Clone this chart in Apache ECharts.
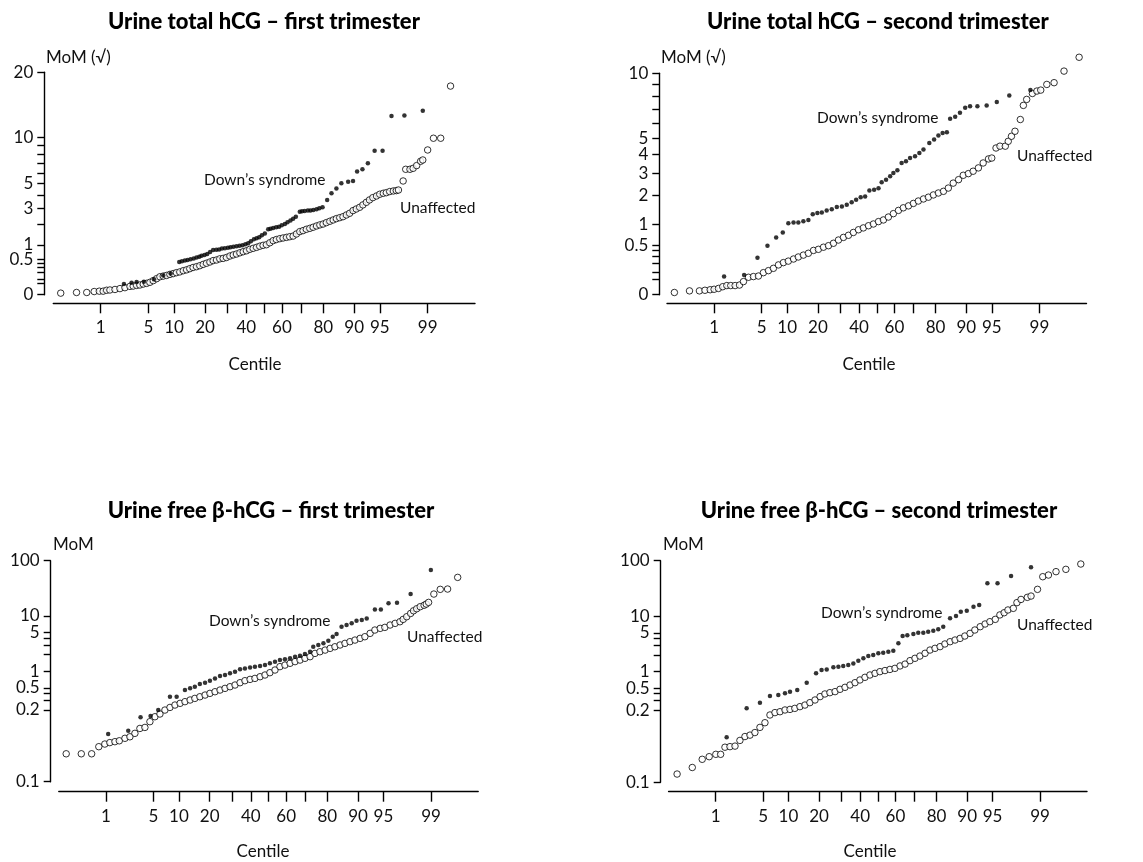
<!DOCTYPE html>
<html>
<head>
<meta charset="utf-8">
<script src="https://cdn.jsdelivr.net/npm/echarts@6/dist/echarts.min.js"></script>
<style>
  html, body { margin: 0; padding: 0; background: #fff; }
  #chart { width: 1143px; height: 862px; }
</style>
</head>
<body>
<div id="chart"></div>
<script>
// ---- Centile (probability) axis ----
const centileTicks = [1, 5, 10, 20, 30, 40, 50, 60, 70, 80, 90, 95, 99];
const centileLabels = [1, 5, 10, 20, 40, 60, 80, 90, 95, 99];

// ---- MoM axes ----
const totalT1YTicks = [20, 10, 9, 8, 7, 6, 5, 4, 3, 2, 1, 0.5, 0.4, 0.3, 0.2, 0.1, 0.05, 0];
const totalT1YLabelValues = [20, 10, 5, 3, 1, 0.5, 0];
const totalT1YLabelTexts = ['20', '10', '5', '3', '1', '0.5', '0'];

const totalT2YTicks = [10, 9, 8, 7, 6, 5, 4, 3, 2, 1, 0.5, 0.4, 0.3, 0.2, 0.1, 0.05, 0];
const totalT2YLabelValues = [10, 5, 4, 3, 2, 1, 0.5, 0];
const totalT2YLabelTexts = ['10', '5', '4', '3', '2', '1', '0.5', '0'];

const freeYTicks = [100, 10, 5, 4, 3, 2, 1, 0.5, 0.4, 0.3, 0.2, 0.01];
const freeYLabelValues = [100, 10, 5, 1, 0.5, 0.2, 0.01];
const freeYLabelTexts = ['100', '10', '5', '1', '0.5', '0.2', '0.1'];

// ---- Data: [centile, MoM] ----
const totalT1Unaffected = [[0.19,0.001],[0.38,0.002],[0.58,0.002],[0.78,0.004],[0.95,0.005],[1.10,0.005],[1.25,0.008],[1.41,0.009],[1.69,0.011],[2.01,0.015],[2.38,0.02],[2.81,0.028],[3.12,0.03],[3.48,0.035],[3.85,0.038],[4.27,0.046],[4.72,0.052],[5.2,0.062],[5.73,0.08],[6.3,0.104],[6.9,0.13],[7.55,0.14],[8.24,0.15],[9.0,0.167],[9.78,0.18],[10.6,0.196],[11.5,0.21],[12.5,0.233],[13.5,0.25],[14.5,0.274],[15.6,0.30],[16.8,0.317],[18.0,0.34],[19.3,0.372],[20.6,0.40],[22.0,0.432],[23.4,0.47],[24.9,0.487],[26.4,0.52],[28.0,0.534],[29.6,0.56],[31.3,0.605],[33.0,0.64],[34.7,0.669],[36.5,0.71],[38.3,0.748],[40.1,0.78],[41.9,0.832],[43.8,0.87],[45.7,0.907],[47.5,0.95],[49.4,0.986],[51.3,1.01],[53.2,1.09],[55.1,1.18],[56.9,1.23],[58.8,1.27],[60.6,1.30],[62.5,1.33],[64.2,1.36],[66.0,1.39],[67.7,1.49],[69.4,1.61],[71.0,1.66],[72.6,1.73],[74.2,1.78],[75.7,1.84],[77.2,1.91],[78.6,1.97],[79.9,2.02],[81.2,2.10],[82.5,2.18],[83.7,2.26],[84.8,2.34],[85.9,2.40],[86.9,2.46],[87.9,2.57],[88.8,2.68],[89.7,2.86],[90.5,2.97],[91.3,3.09],[92.0,3.26],[92.7,3.45],[93.3,3.63],[93.9,3.81],[94.5,3.94],[95.0,4.08],[95.5,4.16],[95.9,4.21],[96.3,4.30],[96.7,4.35],[97.0,4.38],[97.2,4.43],[97.6,5.23],[97.8,6.36],[98.1,6.36],[98.3,6.46],[98.5,6.74],[98.7,7.20],[98.8,7.34],[99.0,8.47],[99.2,9.90],[99.4,9.90],[99.6,17.6]];
const totalT1Downs = [[2.30,0.046],[2.96,0.058],[3.48,0.065],[4.35,0.069],[5.84,0.095],[7.55,0.15],[9.16,0.18],[11.35,0.43],[12.1,0.45],[12.97,0.47],[13.8,0.49],[14.75,0.51],[15.8,0.53],[16.8,0.56],[17.8,0.58],[18.65,0.61],[19.8,0.64],[20.9,0.67],[22.1,0.74],[23.4,0.81],[24.8,0.82],[26.1,0.83],[27.4,0.86],[28.8,0.87],[30.3,0.89],[31.6,0.91],[33.1,0.93],[34.7,0.95],[36.3,0.97],[37.9,0.99],[39.5,1.03],[41.0,1.07],[42.5,1.15],[44.2,1.24],[45.7,1.29],[47.2,1.33],[48.7,1.43],[50.4,1.52],[52.3,1.73],[53.6,1.76],[55.1,1.80],[56.8,1.84],[58.4,1.87],[59.9,1.95],[61.6,2.02],[63.0,2.12],[64.6,2.22],[66.0,2.34],[67.4,2.46],[69.4,2.79],[70.5,2.81],[71.8,2.83],[73.3,2.86],[74.5,2.86],[75.8,2.90],[77.2,2.95],[78.4,3.02],[79.7,3.09],[81.5,3.63],[83.1,4.16],[84.8,4.55],[86.4,5.02],[88.4,5.17],[89.7,5.23],[90.7,6.13],[91.9,6.36],[93.0,6.98],[94.2,8.39],[95.4,8.39],[96.5,12.9],[97.7,13.0],[98.8,13.7]];

const totalT2Unaffected = [[0.19,0.001],[0.37,0.003],[0.56,0.003],[0.70,0.004],[0.86,0.005],[1.0,0.006],[1.18,0.008],[1.38,0.013],[1.60,0.017],[1.84,0.017],[2.14,0.017],[2.48,0.019],[2.83,0.035],[3.33,0.062],[3.89,0.067],[4.53,0.071],[5.25,0.099],[6.07,0.118],[6.97,0.142],[7.99,0.181],[9.09,0.21],[10.3,0.23],[11.7,0.26],[13.1,0.29],[14.7,0.32],[16.4,0.35],[18.3,0.40],[20.2,0.42],[22.3,0.46],[24.5,0.49],[26.8,0.54],[29.2,0.61],[31.7,0.67],[34.3,0.72],[36.9,0.79],[39.7,0.86],[42.4,0.91],[45.3,0.97],[48.1,1.02],[51.0,1.09],[53.8,1.14],[56.6,1.23],[59.4,1.34],[62.2,1.45],[64.8,1.54],[67.5,1.61],[70.0,1.70],[72.4,1.79],[74.8,1.87],[77.0,1.94],[79.1,2.03],[81.1,2.11],[83.0,2.18],[84.7,2.32],[86.3,2.54],[87.9,2.70],[89.2,2.91],[90.5,2.99],[91.6,3.11],[92.7,3.28],[93.6,3.54],[94.5,3.76],[95.0,3.81],[95.6,4.39],[96.1,4.50],[96.7,4.50],[97.0,4.80],[97.3,5.12],[97.6,5.45],[98.0,6.26],[98.2,7.31],[98.4,7.78],[98.7,8.26],[98.9,8.46],[99.05,8.54],[99.25,9.02],[99.44,9.17],[99.63,10.2],[99.81,11.5]];
const totalT2Downs = [[1.45,0.067],[2.89,0.079],[4.40,0.28],[5.90,0.49],[7.51,0.67],[8.95,0.79],[10.3,1.04],[11.7,1.06],[13.1,1.06],[14.7,1.10],[16.4,1.14],[18.0,1.32],[19.8,1.36],[21.6,1.38],[23.7,1.45],[26.0,1.49],[28.4,1.57],[30.9,1.59],[33.4,1.65],[36.0,1.74],[38.4,1.84],[40.9,1.94],[43.4,1.97],[45.8,2.22],[48.5,2.25],[51.0,2.31],[52.8,2.58],[55.3,2.70],[57.6,2.86],[59.4,3.02],[61.6,3.16],[63.9,3.54],[66.2,3.63],[68.3,3.81],[70.8,3.91],[72.9,4.10],[74.8,4.30],[77.4,4.70],[79.4,4.91],[81.1,5.17],[82.7,5.34],[84.2,5.39],[85.3,6.31],[86.9,6.46],[88.3,6.75],[89.7,7.13],[90.9,7.25],[92.5,7.25],[94.2,7.31],[95.7,7.57],[97.1,8.10],[98.6,8.54]];

const freeT1Unaffected = [[0.19,0.032],[0.37,0.032],[0.57,0.032],[0.76,0.043],[0.96,0.048],[1.16,0.051],[1.40,0.053],[1.64,0.055],[2.00,0.061],[2.37,0.065],[2.80,0.075],[3.29,0.092],[3.85,0.096],[4.49,0.122],[5.21,0.150],[6.02,0.168],[6.92,0.198],[7.93,0.221],[9.04,0.244],[10.3,0.262],[11.6,0.281],[13.1,0.301],[14.6,0.322],[16.3,0.345],[18.2,0.370],[20.1,0.397],[22.2,0.425],[24.4,0.456],[26.7,0.489],[29.1,0.524],[31.6,0.562],[34.2,0.619],[36.8,0.673],[39.6,0.711],[42.3,0.741],[45.2,0.795],[48.0,0.853],[50.8,0.94],[53.7,1.05],[56.5,1.21],[59.3,1.29],[62.1,1.39],[64.8,1.49],[67.4,1.59],[69.9,1.71],[72.4,1.83],[74.7,2.10],[76.9,2.25],[79.1,2.41],[81.1,2.59],[82.9,2.77],[84.7,2.98],[86.3,3.19],[87.8,3.42],[89.2,3.66],[90.5,3.93],[91.6,4.21],[92.7,4.84],[93.6,5.56],[94.5,5.96],[95.2,6.21],[95.9,6.85],[96.5,7.34],[97.0,7.86],[97.3,8.67],[97.6,9.68],[97.9,11.1],[98.1,12.4],[98.3,13.5],[98.5,14.7],[98.7,15.6],[98.8,16.4],[98.9,17.6],[99.1,24.9],[99.3,30.3],[99.48,30.7],[99.66,49.9]];
const freeT1Downs = [[1.09,0.073],[2.24,0.084],[3.36,0.146],[4.58,0.154],[5.74,0.198],[7.93,0.345],[9.44,0.345],[11.6,0.456],[13.1,0.489],[14.6,0.524],[16.3,0.586],[18.2,0.619],[20.1,0.673],[22.2,0.741],[24.4,0.818],[26.7,0.853],[29.1,0.914],[31.6,0.98],[34.2,1.08],[36.8,1.12],[39.6,1.17],[42.3,1.21],[45.2,1.24],[48.0,1.29],[50.8,1.39],[53.7,1.49],[56.5,1.59],[59.3,1.64],[62.1,1.71],[64.8,1.83],[67.4,1.91],[69.9,2.05],[72.4,2.25],[73.9,2.77],[76.2,2.98],[78.4,3.19],[80.4,3.56],[82.1,4.21],[83.5,4.71],[85.2,6.39],[86.8,6.85],[88.3,7.34],[89.6,8.20],[90.9,8.43],[92.0,9.03],[93.6,13.1],[94.6,13.1],[95.7,16.9],[96.7,17.4],[97.9,24.9],[98.99,67.8]];

const freeT2Unaffected = [[0.20,0.0141],[0.39,0.0185],[0.59,0.026],[0.78,0.029],[1.01,0.032],[1.21,0.032],[1.42,0.043],[1.70,0.044],[2.03,0.045],[2.40,0.057],[2.84,0.067],[3.34,0.071],[3.90,0.079],[4.55,0.098],[5.28,0.119],[6.10,0.164],[7.01,0.181],[8.04,0.188],[9.16,0.202],[10.4,0.207],[11.7,0.216],[13.2,0.232],[14.8,0.248],[16.5,0.274],[18.4,0.306],[20.4,0.352],[22.4,0.393],[24.6,0.415],[27.0,0.433],[29.4,0.477],[31.9,0.518],[34.5,0.570],[37.2,0.628],[39.9,0.703],[42.7,0.785],[45.5,0.865],[48.4,0.927],[51.2,0.993],[54.1,1.04],[56.9,1.09],[59.7,1.14],[62.5,1.26],[65.2,1.36],[67.8,1.57],[70.3,1.73],[72.7,1.90],[75.1,2.13],[77.3,2.44],[79.4,2.62],[81.4,2.81],[83.2,3.14],[85.0,3.45],[86.6,3.70],[88.1,3.96],[89.4,4.37],[90.7,4.88],[91.8,5.61],[92.9,6.44],[93.8,7.20],[94.6,7.93],[95.4,8.73],[96.0,10.5],[96.5,11.5],[96.9,12.9],[97.4,13.8],[97.7,17.5],[98.0,20.0],[98.4,21.8],[98.6,23.0],[98.9,30.4],[99.1,51.4],[99.28,55.1],[99.47,63.4],[99.65,69.8],[99.82,87.1]];
const freeT2Downs = [[1.51,0.065],[3.00,0.216],[4.55,0.274],[6.10,0.361],[7.68,0.377],[9.16,0.404],[10.4,0.433],[12.4,0.463],[15.4,0.628],[18.8,0.927],[21.0,1.06],[23.2,1.09],[26.2,1.19],[28.6,1.22],[31.0,1.26],[33.6,1.31],[36.3,1.40],[39.0,1.57],[41.8,1.73],[44.6,1.90],[47.4,1.99],[50.3,2.13],[53.1,2.19],[56.0,2.28],[58.8,2.38],[61.6,3.22],[63.9,4.37],[66.4,4.49],[69.5,4.75],[71.9,5.02],[74.3,5.02],[76.5,5.24],[78.7,5.46],[80.7,5.77],[82.6,6.44],[85.0,9.10],[86.9,10.0],[88.3,12.0],[89.9,12.5],[91.5,14.8],[92.7,15.8],[94.2,39.0],[95.7,39.0],[97.2,52.8],[98.6,75.9]];

// ---- Scales ----
// Normal quantile (probit) used for the centile axis
function probit(p) {
  const a = [-3.969683028665376e+01, 2.209460984245205e+02, -2.759285104469687e+02, 1.383577518672690e+02, -3.066479806614716e+01, 2.506628277459239e+00];
  const b = [-5.447609879822406e+01, 1.615858368580409e+02, -1.556989798598866e+02, 6.680131188771972e+01, -1.328068155288572e+01];
  const c = [-7.784894002430293e-03, -3.223964580411365e-01, -2.400758277161838e+00, -2.549732539343734e+00, 4.374664141464968e+00, 2.938163982698783e+00];
  const d = [7.784695709041462e-03, 3.224671290700398e-01, 2.445134137142996e+00, 3.754408661907416e+00];
  const pl = 0.02425, ph = 1 - pl;
  let q, r;
  if (p < pl) {
    q = Math.sqrt(-2 * Math.log(p));
    return (((((c[0]*q+c[1])*q+c[2])*q+c[3])*q+c[4])*q+c[5]) / ((((d[0]*q+d[1])*q+d[2])*q+d[3])*q+1);
  }
  if (p <= ph) {
    q = p - 0.5; r = q * q;
    return (((((a[0]*r+a[1])*r+a[2])*r+a[3])*r+a[4])*r+a[5])*q / (((((b[0]*r+b[1])*r+b[2])*r+b[3])*r+b[4])*r+1);
  }
  q = Math.sqrt(-2 * Math.log(1 - p));
  return -(((((c[0]*q+c[1])*q+c[2])*q+c[3])*q+c[4])*q+c[5]) / ((((d[0]*q+d[1])*q+d[2])*q+d[3])*q+1);
}
const cz = c => probit(c / 100);
const scales = { sqrt: v => Math.sqrt(v), log: v => Math.log10(v) };

const FONT = 'Lato, "Open Sans", "DejaVu Sans", sans-serif';

const panels = [
  { title: 'Urine total hCG – first trimester', yName: 'MoM (√)', scale: 'sqrt', yMin: 0, yMax: 20,
    ticks: totalT1YTicks, labelValues: totalT1YLabelValues, labelTexts: totalT1YLabelTexts,
    unaffected: totalT1Unaffected, downs: totalT1Downs,
    grid: { left: 53.3, top: 72.3, width: 421.7, height: 222.4 }, yOffset: 9, xOffset: 8.6,
    titleAt: [264, 22], nameAt: [46, 58], centileAt: [255, 365], downsAt: [204, 180], unaffAt: [400, 208] },
  { title: 'Urine total hCG – second trimester', yName: 'MoM (√)', scale: 'sqrt', yMin: 0, yMax: 10,
    ticks: totalT2YTicks, labelValues: totalT2YLabelValues, labelTexts: totalT2YLabelTexts,
    unaffected: totalT2Unaffected, downs: totalT2Downs,
    grid: { left: 667, top: 73.3, width: 419.5, height: 221.4 }, yOffset: 7.7, xOffset: 8.6,
    titleAt: [878, 22], nameAt: [661, 58], centileAt: [869, 365], downsAt: [817, 118], unaffAt: [1017, 156] },
  { title: 'Urine free β-hCG – first trimester', yName: 'MoM', scale: 'log', yMin: 0.01, yMax: 100,
    ticks: freeYTicks, labelValues: freeYLabelValues, labelTexts: freeYLabelTexts,
    unaffected: freeT1Unaffected, downs: freeT1Downs,
    grid: { left: 58.8, top: 560.7, width: 419.4, height: 221 }, yOffset: 8.1, xOffset: 10,
    titleAt: [271, 511], nameAt: [53, 545], centileAt: [263, 852], downsAt: [209, 621], unaffAt: [407, 637] },
  { title: 'Urine free β-hCG – second trimester', yName: 'MoM', scale: 'log', yMin: 0.01, yMax: 100,
    ticks: freeYTicks, labelValues: freeYLabelValues, labelTexts: freeYLabelTexts,
    unaffected: freeT2Unaffected, downs: freeT2Downs,
    grid: { left: 668.6, top: 560.7, width: 418.4, height: 221.6 }, yOffset: 7.9, xOffset: 9.4,
    titleAt: [879, 511], nameAt: [663, 545], centileAt: [870, 852], downsAt: [821, 613], unaffAt: [1017, 625] }
];

function lookupLabel(value, values, texts) {
  for (let i = 0; i < values.length; i++) {
    if (Math.abs(values[i] - value) < 1e-6) return texts[i];
  }
  return '';
}

const axisLineStyle = { color: '#000', width: 1.4 };
const labelStyle = { color: '#111', fontFamily: FONT, fontSize: 17 };

const xTickZ = centileTicks.map(cz);
const xLabelZ = centileLabels.map(cz);
const byCentile = (a, b) => a[0] - b[0];

const option = {
  animation: false,
  backgroundColor: '#fff',
  grid: panels.map(p => Object.assign({ containLabel: false }, p.grid)),
  xAxis: panels.map((p, i) => ({
    type: 'value', gridIndex: i, min: -3, max: 3, offset: p.xOffset,
    axisLine: { show: true, onZero: false, lineStyle: axisLineStyle },
    axisTick: { show: true, inside: false, length: 10, customValues: xTickZ, lineStyle: axisLineStyle },
    axisLabel: Object.assign({ show: true, margin: 16, customValues: xLabelZ,
      formatter: v => lookupLabel(v, xLabelZ, centileLabels.map(String)) }, labelStyle),
    splitLine: { show: false }
  })),
  yAxis: panels.map((p, i) => {
    const t = scales[p.scale];
    const lv = p.labelValues.map(t);
    return {
      type: 'value', gridIndex: i, min: t(p.yMin), max: t(p.yMax), offset: p.yOffset,
      axisLine: { show: true, onZero: false, lineStyle: axisLineStyle },
      axisTick: { show: true, inside: false, length: 7, customValues: p.ticks.map(t), lineStyle: axisLineStyle },
      axisLabel: Object.assign({ show: true, margin: 11, customValues: lv,
        formatter: v => lookupLabel(v, lv, p.labelTexts) }, labelStyle),
      splitLine: { show: false }
    };
  }),
  series: [],
  graphic: { elements: [] }
};

panels.forEach((p, i) => {
  const t = scales[p.scale];
  option.series.push({
    name: 'Unaffected', type: 'scatter', xAxisIndex: i, yAxisIndex: i, clip: false, silent: true,
    symbol: 'circle', symbolSize: 6.5,
    itemStyle: { color: '#fff', borderColor: '#000', borderWidth: 1 },
    data: p.unaffected.slice().sort(byCentile).map(d => [cz(d[0]), t(d[1])])
  });
  option.series.push({
    name: "Down's syndrome", type: 'scatter', xAxisIndex: i, yAxisIndex: i, clip: false, silent: true,
    symbol: 'circle', symbolSize: 4.5,
    itemStyle: { color: '#000' },
    data: p.downs.map(d => [cz(d[0]), t(d[1])])
  });

  const txt = (x, y, text, opts) => ({
    type: 'text', x: x, y: y, silent: true,
    style: Object.assign({ text: text, fill: '#111', font: '17px ' + FONT,
      textAlign: 'left', textVerticalAlign: 'middle', align: 'left', verticalAlign: 'middle' }, opts || {})
  });
  option.graphic.elements.push(
    txt(p.titleAt[0], p.titleAt[1], p.title, { font: '900 22px ' + FONT, textAlign: 'center', align: 'center', fill: '#000' }),
    txt(p.nameAt[0], p.nameAt[1], p.yName),
    txt(p.centileAt[0], p.centileAt[1], 'Centile', { textAlign: 'center', align: 'center' }),
    txt(p.downsAt[0], p.downsAt[1], 'Down’s syndrome', { font: '15.5px ' + FONT }),
    txt(p.unaffAt[0], p.unaffAt[1], 'Unaffected', { font: '15.5px ' + FONT })
  );
});

const chart = echarts.init(document.getElementById('chart'), null, { renderer: 'canvas' });
chart.setOption(option);
</script>
</body>
</html>
